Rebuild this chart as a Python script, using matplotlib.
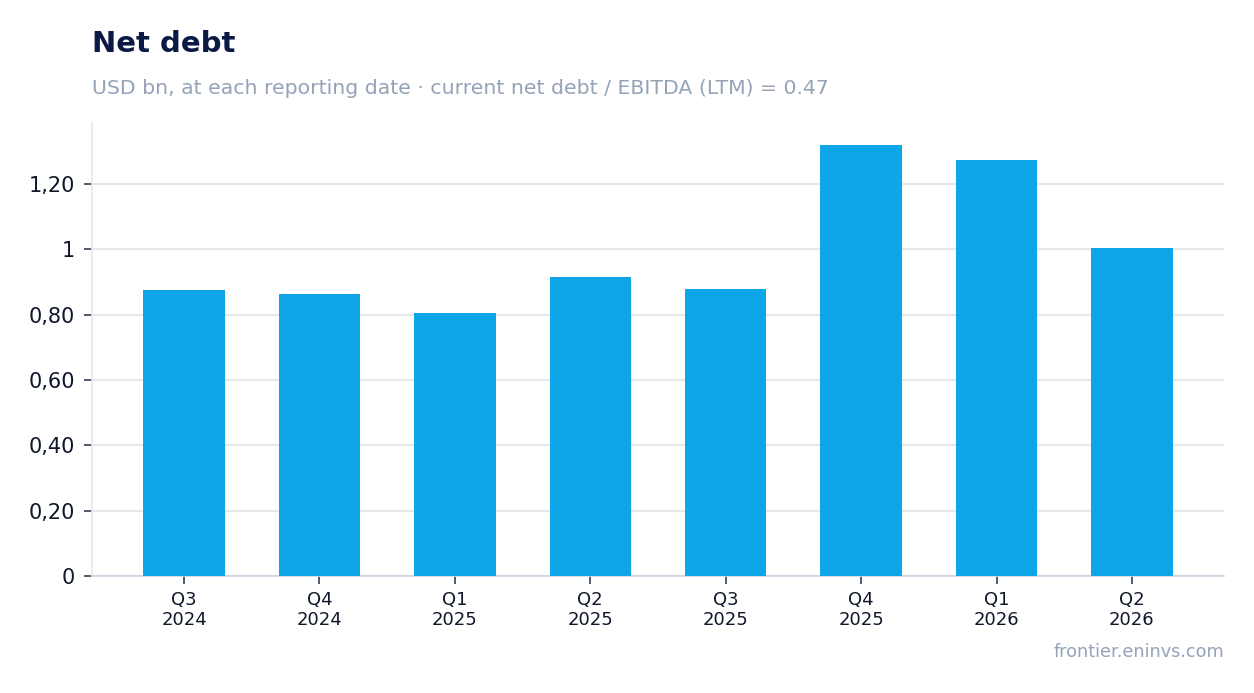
import matplotlib
matplotlib.use("Agg")
import matplotlib.pyplot as plt
from matplotlib.ticker import FuncFormatter

quarters = ["Q3\n2024", "Q4\n2024", "Q1\n2025", "Q2\n2025",
            "Q3\n2025", "Q4\n2025", "Q1\n2026", "Q2\n2026"]
net_debt = [0.875, 0.864, 0.805, 0.916, 0.879, 1.320, 1.274, 1.004]
y_ticks = [0, 0.2, 0.4, 0.6, 0.8, 1.0, 1.2]

plt.rcParams['font.family'] = ['DejaVu Sans']

fig = plt.figure(figsize=(12.54, 6.93), dpi=100)
ax = fig.add_axes([92 / 1254, 1 - 576 / 693, (1224 - 92) / 1254, (576 - 122) / 693])

x = list(range(len(quarters)))
ax.bar(x, net_debt, width=0.6, color='#0ea5e9', zorder=3)

ax.set_xlim(-0.68, len(quarters) - 1 + 0.68)
ax.set_ylim(0, 1.39)
ax.set_xticks(x)
ax.set_xticklabels(quarters, fontsize=13, color='#0f172a', linespacing=1.1)
ax.set_yticks(y_ticks)


def fmt(v, pos):
    if abs(v - round(v)) < 1e-9:
        return f"{int(round(v))}"
    return f"{v:.2f}".replace('.', ',')


ax.yaxis.set_major_formatter(FuncFormatter(fmt))
ax.tick_params(axis='y', labelsize=15, colors='#334155', labelcolor='#0f172a',
               length=6, width=1.2, pad=6)
ax.tick_params(axis='x', colors='#334155', labelcolor='#0f172a',
               length=6, width=1.2, pad=5)

ax.grid(axis='y', color='#e5e7eb', linewidth=1.5, zorder=0)
for s in ['top', 'right']:
    ax.spines[s].set_visible(False)
ax.spines['left'].set_color('#e5e7eb')
ax.spines['left'].set_linewidth(1.2)
ax.spines['bottom'].set_color('#cbd5e1')
ax.spines['bottom'].set_linewidth(1.2)

fig.text(92 / 1254, 1 - 44 / 693, "Net debt", fontsize=21, fontweight='bold',
         color='#0b1a45', va='center', ha='left')
fig.text(92 / 1254, 1 - 88 / 693,
         "USD bn, at each reporting date · current net debt / EBITDA (LTM) = 0.47",
         fontsize=14.7, color='#94a3b8', va='center', ha='left')
fig.text(1224 / 1254, 1 - 652 / 693, "frontier.eninvs.com", fontsize=12.7,
         color='#94a3b8', va='center', ha='right')

fig.savefig("out.png", dpi=100)
